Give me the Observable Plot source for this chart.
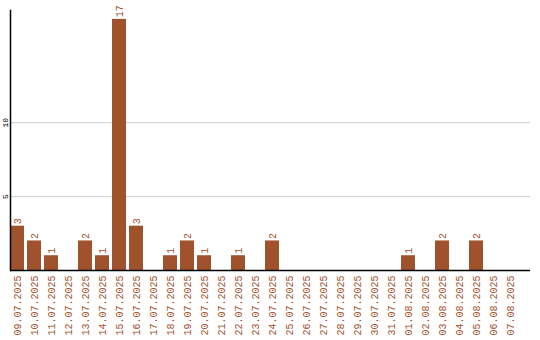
<!DOCTYPE html>
<html>
<head>
<meta charset="utf-8">
<script src="https://cdn.jsdelivr.net/npm/d3@7"></script>
<script src="https://cdn.jsdelivr.net/npm/@observablehq/plot@0.6"></script>
<style>
  html, body { margin: 0; padding: 0; background: #fff; }
  svg { display: block; }
</style>
</head>
<body>
<div id="chart"></div>
<script>
const dates = ["09.07.2025","10.07.2025","11.07.2025","12.07.2025","13.07.2025","14.07.2025","15.07.2025","16.07.2025","17.07.2025","18.07.2025","19.07.2025","20.07.2025","21.07.2025","22.07.2025","23.07.2025","24.07.2025","25.07.2025","26.07.2025","27.07.2025","28.07.2025","29.07.2025","30.07.2025","31.07.2025","01.08.2025","02.08.2025","03.08.2025","04.08.2025","05.08.2025","06.08.2025","07.08.2025"];
const counts = [3,2,1,0,2,1,17,3,0,1,2,1,0,1,0,2,0,0,0,0,0,0,0,1,0,2,0,2,0,0];
const yTicks = [5, 10];

const data = dates.map((d, i) => ({date: d, count: counts[i]}));
const nonzero = data.filter(d => d.count > 0);
const brown = "#a0522d";
const font = "Liberation Mono, DejaVu Sans Mono, monospace";

const chart = Plot.plot({
  width: 540,
  height: 340,
  marginTop: 10,
  marginLeft: 10,
  marginRight: 10,
  marginBottom: 70,
  style: {fontFamily: font, background: "#fff"},
  x: {type: "band", domain: dates, paddingInner: 0.2, paddingOuter: 0.394, align: 0, axis: null},
  y: {domain: [0, 17.6], axis: null},
  marks: [
    Plot.ruleY(yTicks, {stroke: "#cccccc", strokeWidth: 1}),
    Plot.barY(data, {x: "date", y: "count", fill: brown}),
    Plot.text(nonzero, {x: "date", y: "count", text: d => String(d.count), rotate: -90, textAnchor: "start", lineAnchor: "middle", dy: -2, fill: brown, fontSize: 10, fontFamily: font}),
    Plot.text(data, {x: "date", text: "date", frameAnchor: "bottom", dy: 5, rotate: -90, textAnchor: "end", lineAnchor: "middle", fill: brown, fontSize: 10, fontFamily: font}),
    Plot.text(yTicks, {y: d => d, text: d => String(d), frameAnchor: "left", dx: -5, rotate: -90, textAnchor: "middle", lineAnchor: "middle", fill: "#000", fontSize: 8, fontFamily: font}),
    Plot.frame({anchor: "left", stroke: "#000", strokeWidth: 1.5}),
    Plot.ruleY([0], {stroke: "#000", strokeWidth: 1.5})
  ]
});
document.getElementById("chart").appendChild(chart);
</script>
</body>
</html>
